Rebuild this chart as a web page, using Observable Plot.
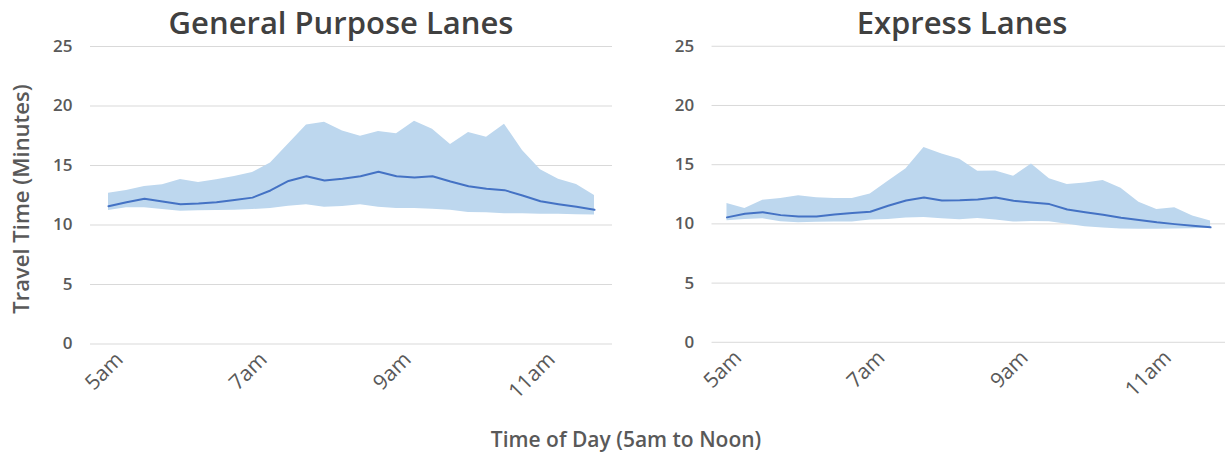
<!DOCTYPE html>
<html>
<head>
<meta charset="utf-8">
<script src="https://cdn.jsdelivr.net/npm/d3@7"></script>
<script src="https://cdn.jsdelivr.net/npm/@observablehq/plot@0.6"></script>
<style>
  body { margin: 0; background: #fff; }
  #wrap { position: relative; width: 1225px; height: 459px; overflow: hidden; font-family: "Open Sans", "Liberation Sans", sans-serif; background:#fff; }
  .title { position: absolute; top: 2px; font-size: 31px; line-height: 40px; font-weight: 600; color: #404040; white-space: nowrap; transform: translateX(-50%); }
  .ytitle { position: absolute; left: 20px; top: 199px; font-size: 22px; font-weight: 600; color: #595959; white-space: nowrap; transform: translate(-50%, -50%) rotate(-90deg); }
  .xtitle { position: absolute; left: 626px; top: 425px; font-size: 21px; font-weight: 600; color: #595959; white-space: nowrap; transform: translateX(-50%); }
  .panel { position: absolute; top: 0; }
  .panel svg { overflow: visible; }
</style>
</head>
<body>
<div id="wrap"></div>
<script>
// ---- Data ----
const times = ["5:00","5:15","5:30","5:45","6:00","6:15","6:30","6:45",
               "7:00","7:15","7:30","7:45","8:00","8:15","8:30","8:45",
               "9:00","9:15","9:30","9:45","10:00","10:15","10:30","10:45",
               "11:00","11:15","11:30","11:45"];
const xTicks = ["5:00","7:00","9:00","11:00"];
const xTickLabels = ["5am","7am","9am","11am"];
const yTicks = [0, 5, 10, 15, 20, 25];

const panelTitles = ["General Purpose Lanes", "Express Lanes"];

// General Purpose Lanes (minutes)
const gpHigh = [12.67, 12.9, 13.24, 13.38, 13.82, 13.57, 13.8, 14.08, 14.41, 15.2, 16.8, 18.4, 18.64, 17.9,
                17.46, 17.86, 17.66, 18.72, 18.05, 16.76, 17.77, 17.38, 18.47, 16.26, 14.64, 13.85, 13.4, 12.48];
const gpMean = [11.58, 11.92, 12.2, 11.97, 11.75, 11.8, 11.92, 12.1, 12.3, 12.9, 13.7, 14.1, 13.74, 13.88,
                14.1, 14.47, 14.1, 13.99, 14.1, 13.66, 13.26, 13.04, 12.93, 12.48, 12.0, 11.75, 11.53, 11.28];
const gpLow  = [11.22, 11.45, 11.45, 11.3, 11.16, 11.2, 11.22, 11.25, 11.3, 11.39, 11.58, 11.7, 11.5, 11.55,
                11.7, 11.5, 11.39, 11.39, 11.33, 11.25, 11.05, 11.02, 10.94, 10.94, 10.91, 10.91, 10.86, 10.83];

// Express Lanes (minutes)
const exHigh = [11.72, 11.3, 12.0, 12.14, 12.37, 12.2, 12.14, 12.14, 12.53, 13.6, 14.66, 16.46, 15.9, 15.45,
                14.44, 14.47, 14.02, 15.06, 13.82, 13.32, 13.46, 13.66, 13.0, 11.83, 11.22, 11.36, 10.66, 10.24];
const exMean = [10.55, 10.86, 10.99, 10.74, 10.63, 10.63, 10.8, 10.91, 11.02, 11.53, 11.97, 12.23, 11.98, 12.0,
                12.06, 12.23, 11.95, 11.81, 11.67, 11.22, 10.99, 10.77, 10.52, 10.32, 10.13, 9.98, 9.85, 9.71];
const exLow  = [10.27, 10.38, 10.43, 10.18, 10.1, 10.13, 10.16, 10.16, 10.32, 10.38, 10.49, 10.55, 10.43, 10.36,
                10.46, 10.32, 10.15, 10.21, 10.18, 9.98, 9.76, 9.65, 9.57, 9.55, 9.55, 9.57, 9.6, 9.63];

// ---- Drawing ----
function panel(high, mean, low, width, marginLeft, marginRight) {
  const data = times.map((t, i) => ({t, hi: high[i], mean: mean[i], lo: low[i]}));
  return Plot.plot({
    width, height: 459,
    marginLeft, marginRight, marginTop: 46, marginBottom: 115.5,
    style: {background: "transparent", fontFamily: '"Open Sans", sans-serif', overflow: "visible"},
    x: {type: "point", domain: times, padding: 0.5},
    y: {domain: [0, 25]},
    marks: [
      Plot.ruleY(yTicks, {stroke: "#d9d9d9", strokeWidth: 1}),
      Plot.areaY(data, {x: "t", y1: "lo", y2: "hi", fill: "#bdd7ee", fillOpacity: 1}),
      Plot.lineY(data, {x: "t", y: "mean", stroke: "#4472c4", strokeWidth: 2}),
      Plot.axisY({ticks: yTicks, tickSize: 0, tickPadding: 18, label: null,
                  fontSize: 17, fontWeight: 600, fill: "#595959"}),
      Plot.axisX({ticks: xTicks, tickFormat: d => xTickLabels[xTicks.indexOf(d)],
                  tickRotate: -45, tickSize: 0, tickPadding: 12, label: null,
                  fontSize: 21, fill: "#595959", dx: 11})
    ]
  });
}

const wrap = document.getElementById("wrap");

const p1 = document.createElement("div");
p1.className = "panel"; p1.style.left = "0px";
p1.appendChild(panel(gpHigh, gpMean, gpLow, 620, 90, 8));
wrap.appendChild(p1);

const p2 = document.createElement("div");
p2.className = "panel"; p2.style.left = "620px";
p2.appendChild(panel(exHigh, exMean, exLow, 608, 92, 0));
wrap.appendChild(p2);

const t1 = document.createElement("div");
t1.className = "title"; t1.style.left = "341px"; t1.textContent = panelTitles[0];
wrap.appendChild(t1);
const t2 = document.createElement("div");
t2.className = "title"; t2.style.left = "962px"; t2.textContent = panelTitles[1];
wrap.appendChild(t2);

const yt = document.createElement("div");
yt.className = "ytitle"; yt.textContent = "Travel Time (Minutes)";
wrap.appendChild(yt);

const xt = document.createElement("div");
xt.className = "xtitle"; xt.textContent = "Time of Day (5am to Noon)";
wrap.appendChild(xt);
</script>
</body>
</html>
